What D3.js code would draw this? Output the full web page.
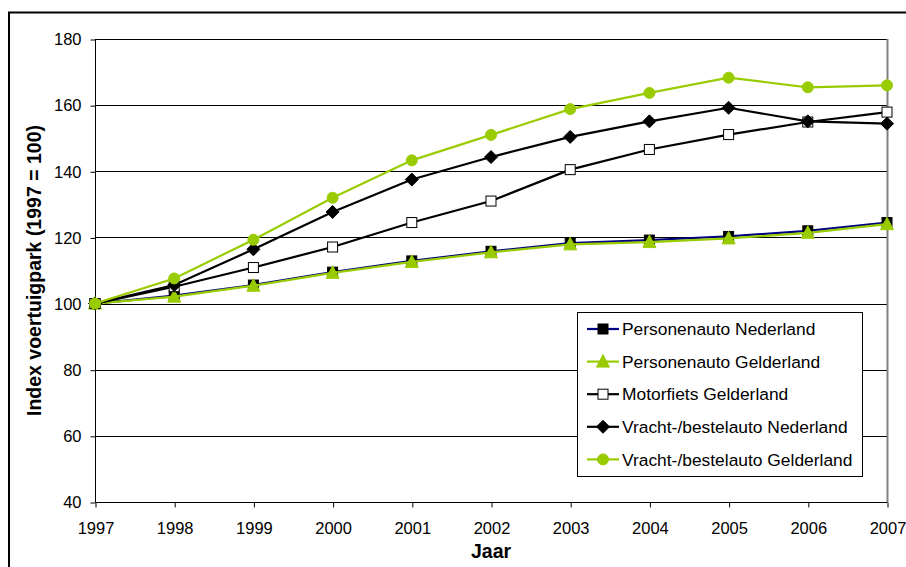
<!DOCTYPE html>
<html>
<head>
<meta charset="utf-8">
<script src="https://cdn.jsdelivr.net/npm/d3@7"></script>
<style>
  html, body { margin: 0; padding: 0; background: #fff; }
  svg { display: block; font-family: Arial, "Liberation Sans", sans-serif; }
</style>
</head>
<body>
<svg id="chart" width="906" height="567"></svg>
<script>
// Vehicle fleet index per year (1997 = 100)
const years = [1997, 1998, 1999, 2000, 2001, 2002, 2003, 2004, 2005, 2006, 2007];
const yTicks = [40, 60, 80, 100, 120, 140, 160, 180];

const personenautoNederland  = [100, 102.4, 105.6, 109.5, 112.9, 115.8, 118.3, 119.2, 120.3, 122.0, 124.5];
const personenautoGelderland = [100, 102.1, 105.4, 109.3, 112.6, 115.5, 117.9, 118.6, 119.7, 121.4, 124.0];
const motorfietsGelderland   = [100, 105.1, 110.9, 117.1, 124.5, 131.0, 140.5, 146.6, 151.1, 154.9, 157.9];
const vrachtNederland        = [100, 105.6, 116.4, 127.7, 137.5, 144.3, 150.4, 155.1, 159.2, 155.1, 154.4];
const vrachtGelderland       = [100, 107.6, 119.3, 132.0, 143.3, 151.0, 158.8, 163.7, 168.3, 165.4, 166.0];

const seriesNames = [
  "Personenauto Nederland",
  "Personenauto Gelderland",
  "Motorfiets Gelderland",
  "Vracht-/bestelauto Nederland",
  "Vracht-/bestelauto Gelderland"
];

const green = "#99cc00";
const series = [
  { name: seriesNames[0], values: personenautoNederland,  line: "#000080", marker: "square",   fill: "#000", stroke: "#000" },
  { name: seriesNames[1], values: personenautoGelderland, line: green,     marker: "triangle", fill: green,  stroke: green },
  { name: seriesNames[2], values: motorfietsGelderland,   line: "#000",    marker: "square",   fill: "#fff", stroke: "#000" },
  { name: seriesNames[3], values: vrachtNederland,        line: "#000",    marker: "diamond",  fill: "#000", stroke: "#000" },
  { name: seriesNames[4], values: vrachtGelderland,       line: green,     marker: "circle",   fill: green,  stroke: green }
];

const FONT = "Arial, 'Liberation Sans', sans-serif";
const svg = d3.select("#chart");

// outer frame
svg.append("rect")
  .attr("x", 9).attr("y", 12.5)
  .attr("width", 1000).attr("height", 1000)
  .attr("fill", "none").attr("stroke", "#000").attr("stroke-width", 2);

const plotLeft = 95, plotRight = 887, plotTop = 39, plotBottom = 502;
const x = d3.scaleLinear().domain([1997, 2007]).range([plotLeft, plotRight]);
const y = d3.scaleLinear().domain([40, 180]).range([plotBottom, plotTop]);

// horizontal gridlines
svg.append("g")
  .selectAll("line")
  .data(yTicks.filter(v => v > 40))
  .join("line")
  .attr("x1", plotLeft).attr("x2", plotRight)
  .attr("y1", d => Math.round(y(d)) + 0.5).attr("y2", d => Math.round(y(d)) + 0.5)
  .attr("stroke", "#000").attr("stroke-width", 1);

// right plot border
svg.append("line")
  .attr("x1", plotRight + 0.5).attr("x2", plotRight + 0.5)
  .attr("y1", plotTop).attr("y2", plotBottom)
  .attr("stroke", "#808080").attr("stroke-width", 2);

// y axis
const yAxis = d3.axisLeft(y).tickValues(yTicks).tickSize(5).tickPadding(9).tickFormat(d3.format("d"));
const gy = svg.append("g").attr("transform", `translate(${plotLeft + 0.5},0.5)`).call(yAxis);
gy.select(".domain").attr("stroke", "#000").attr("d", `M0,${y(180)}V${y(40)}`);
gy.selectAll("text").attr("font-size", 16.5).attr("fill", "#000").attr("font-family", FONT);
gy.selectAll("line").attr("stroke", "#000");

// x axis
const xAxis = d3.axisBottom(x).tickValues(years).tickSize(5).tickFormat(d3.format("d"));
const gx = svg.append("g").attr("transform", `translate(0.5,${plotBottom + 0.5})`).call(xAxis);
gx.select(".domain").attr("stroke", "#000").attr("d", `M${x(1997)},0H${x(2007)}`);
gx.selectAll("text").attr("font-size", 16.5).attr("fill", "#000")
  .attr("y", 31).attr("dy", 0).attr("font-family", FONT);
gx.selectAll("line").attr("stroke", "#000");

// axis titles
svg.append("text")
  .attr("x", x(2002)).attr("y", 558)
  .attr("text-anchor", "middle")
  .attr("font-size", 19.5).attr("font-weight", "bold")
  .text("Jaar");

svg.append("text")
  .attr("transform", `translate(41,${y(110)}) rotate(-90)`)
  .attr("text-anchor", "middle")
  .attr("font-size", 19.5).attr("font-weight", "bold")
  .text("Index voertuigpark (1997 = 100)");

// marker drawing
function drawMarker(g, type, cx, cy, fill, stroke) {
  if (type === "square") {
    g.append("rect").attr("x", cx - 5).attr("y", cy - 5).attr("width", 10).attr("height", 10)
      .attr("fill", fill).attr("stroke", stroke).attr("stroke-width", 1);
  } else if (type === "triangle") {
    g.append("path").attr("d", `M${cx},${cy - 7}L${cx + 6.5},${cy + 5.5}L${cx - 6.5},${cy + 5.5}Z`)
      .attr("fill", fill).attr("stroke", stroke).attr("stroke-width", 1);
  } else if (type === "diamond") {
    g.append("path").attr("d", `M${cx},${cy - 6.5}L${cx + 6.5},${cy}L${cx},${cy + 6.5}L${cx - 6.5},${cy}Z`)
      .attr("fill", fill).attr("stroke", stroke).attr("stroke-width", 1);
  } else if (type === "circle") {
    g.append("circle").attr("cx", cx).attr("cy", cy).attr("r", 5.5)
      .attr("fill", fill).attr("stroke", stroke).attr("stroke-width", 1);
  }
}

const line = d3.line().x((d, i) => x(years[i])).y(d => y(d));

// draw series in order (last on top)
series.forEach(s => {
  const g = svg.append("g");
  g.append("path").datum(s.values).attr("d", line)
    .attr("fill", "none").attr("stroke", s.line).attr("stroke-width", 2.2);
  s.values.forEach((v, i) => drawMarker(g, s.marker, x(years[i]), y(v), s.fill, s.stroke));
});

// legend
const lg = svg.append("g").attr("transform", "translate(577,312)");
lg.append("rect").attr("x", 0.5).attr("y", 0.5).attr("width", 285).attr("height", 164)
  .attr("fill", "#fff").attr("stroke", "#000").attr("stroke-width", 1);
series.forEach((s, i) => {
  const cy = 17 + i * 32.6;
  lg.append("line").attr("x1", 10).attr("x2", 42).attr("y1", cy).attr("y2", cy)
    .attr("stroke", s.line).attr("stroke-width", 2.2);
  drawMarker(lg, s.marker, 26, cy, s.fill, s.stroke);
  lg.append("text").attr("x", 45).attr("y", cy).attr("dy", "0.36em")
    .attr("font-size", 17.4).attr("fill", "#000").attr("font-family", FONT).text(s.name);
});
</script>
</body>
</html>
